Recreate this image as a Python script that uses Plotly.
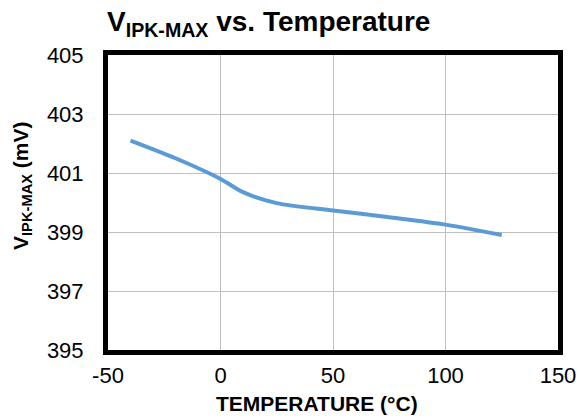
import plotly.graph_objects as go

temperature = [-40, -20, 0, 10, 25, 50, 75, 100, 125]
vipk_max = [402.1, 401.5, 400.8, 400.35, 399.98, 399.73, 399.5, 399.25, 398.9]

x_ticks = [-50, 0, 50, 100, 150]
y_ticks = [395, 397, 399, 401, 403, 405]

font_family = "Liberation Sans, Arial, sans-serif"

L, R, T, B = 108, 558, 55, 350
W, H = 582, 419

fig = go.Figure()
fig.add_trace(go.Scatter(
    x=temperature, y=vipk_max, mode="lines",
    line=dict(color="#5B9BD5", width=4, shape="spline", smoothing=0.8),
    showlegend=False, hoverinfo="skip",
))

fig.update_layout(
    width=W, height=H,
    margin=dict(l=L, r=W - R, t=T, b=H - B),
    paper_bgcolor="white", plot_bgcolor="white",
    font=dict(family=font_family, size=22, color="black"),
    title=dict(
        text="<b>V<sub>IPK-MAX</sub> vs. Temperature</b>",
        x=107 / W, xanchor="left", y=1 - 21 / H, yanchor="middle",
        font=dict(size=28, family=font_family, color="black"),
    ),
    xaxis=dict(
        range=[-50, 150], tickvals=x_ticks, ticktext=[str(v) for v in x_ticks],
        showgrid=True, gridcolor="#BFBFBF", gridwidth=1,
        showline=True, linecolor="black", linewidth=5, mirror=True,
        zeroline=False, ticks="", tickfont=dict(size=22), automargin=False,
        ticklabelstandoff=2,
    ),
    yaxis=dict(
        range=[395, 405], tickvals=y_ticks, ticktext=[str(v) for v in y_ticks],
        showgrid=True, gridcolor="#BFBFBF", gridwidth=1,
        showline=True, linecolor="black", linewidth=5, mirror=True,
        zeroline=False, ticks="", tickfont=dict(size=22), automargin=False,
        ticklabelstandoff=15,
    ),
    annotations=[
        dict(
            text="<b>TEMPERATURE (°C)</b>", xref="paper", yref="paper",
            x=(317 - L) / (R - L), y=-(403 - B) / (B - T), xanchor="center", yanchor="middle",
            showarrow=False, font=dict(size=21, family=font_family, color="black"),
        ),
        dict(
            text="<b>V<sub>IPK-MAX</sub> (mV)</b>", xref="paper", yref="paper",
            x=-(L - 22) / (R - L), y=(B - 186) / (B - T), xanchor="center", yanchor="middle",
            textangle=-90, showarrow=False,
            font=dict(size=21, family=font_family, color="black"),
        ),
    ],
)

fig.write_html("out.html", config={"displayModeBar": False},
               post_script="document.body.style.margin='0';document.body.style.padding='0';")
